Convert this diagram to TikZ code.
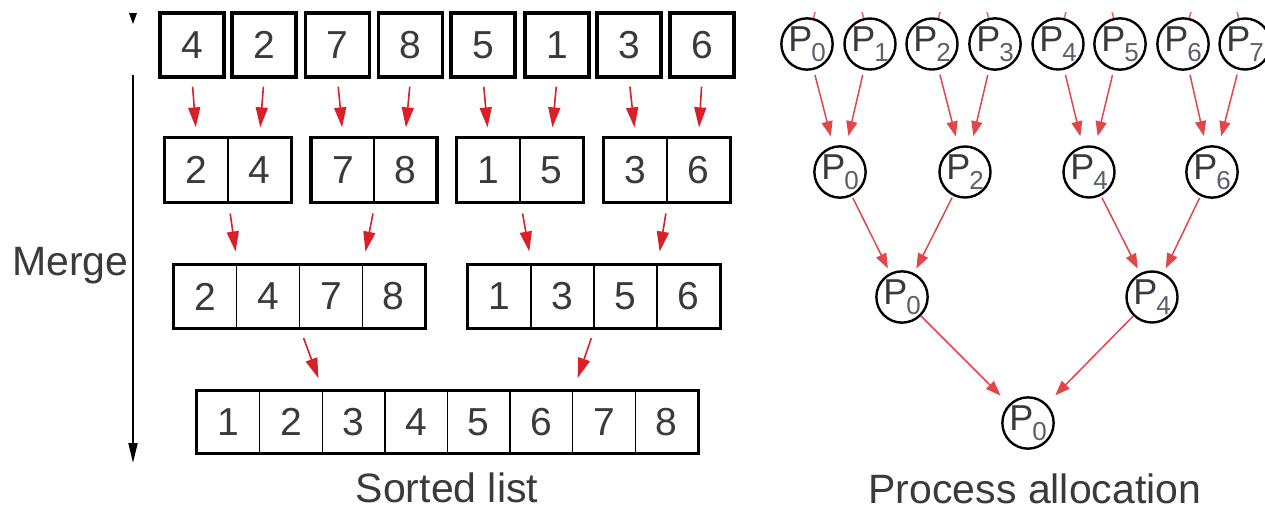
\documentclass[tikz,border=0pt]{standalone}
\usepackage{fontspec}
\setmainfont{Liberation Sans}
\usetikzlibrary{arrows.meta}
\definecolor{ink}{HTML}{3A3A3A}
\definecolor{subink}{HTML}{5A5F6A}
\definecolor{arrowred}{HTML}{DC1E26}
\definecolor{linkred}{HTML}{E2464A}
% process label: P with a lowered index
\newcommand\procname[1]{P\kern-1pt\raisebox{-10pt}{\fontsize{26}{26}\selectfont\color{subink}#1}}
\begin{document}
\begin{tikzpicture}[x=1pt,y=-1pt,
  num/.style={font=\fontsize{39}{39}\selectfont, text=ink, inner sep=0pt},
  single/.style={num, draw=black, line width=3.5pt, minimum width=64pt, minimum height=64pt},
  cell/.style={num, draw=black, line width=1.3pt},
  frame/.style={draw=black, line width=3.5pt},
  mergearrow/.style={draw=arrowred, line width=1.6pt, -{Triangle[length=20pt,width=12pt]}},
  proc/.style={circle, draw=black, line width=2.4pt, minimum size=51pt, inner sep=0pt,
    font=\fontsize{36}{36}\selectfont, text=ink},
  treearrow/.style={draw=linkred, line width=1.5pt, -{Triangle[length=15pt,width=11pt]}},
  stub/.style={draw=linkred!80, line width=1.6pt},
  caption/.style={font=\fontsize{41}{41}\selectfont, text=ink, inner sep=0pt}
]
\useasboundingbox (0,0) rectangle (1265,512);
\begin{scope}
\clip (0,0) rectangle (1265,512);

% ---------- merge axis ----------
\fill[black] (129,13) -- (137,13) -- (133,24) -- cycle;
\coordinate (axtop) at (133,75);
\coordinate (axbot) at (133,463);
\draw[line width=2pt, -{Triangle[length=20pt,width=9pt]}] (axtop) -- (axbot);
\node[caption, anchor=base west] (merge) at (12,275) {Merge};

% ---------- row 1: single elements ----------
\node[single] (a1) at (192,45)   {4};
\node[single] (a2) at (264,45)   {2};
\node[single] (a3) at (337.5,45) {7};
\node[single] (a4) at (410.5,45) {8};
\node[single] (a5) at (483,45)   {5};
\node[single] (a6) at (557,45)   {1};
\node[single] (a7) at (629,45)   {3};
\node[single] (a8) at (702,45)   {6};

% ---------- row 2: sorted pairs ----------
\tikzset{r2/.style={cell, minimum width=63pt, minimum height=64pt}}
\node[r2] (b1) at (196.5,170) {2};
\node[r2] (b2) at (259.5,170) {4};
\node[r2] (b3) at (343,170)   {7};
\node[r2] (b4) at (405,170)   {8};
\node[r2] (b5) at (488.5,170) {1};
\node[r2] (b6) at (551.5,170) {5};
\node[r2] (b7) at (635.5,170) {3};
\node[r2] (b8) at (698.5,170) {6};
\draw[frame] (b1.north west) rectangle (b2.south east);
\draw[frame] (b3.north west) rectangle (b4.south east);
\draw[frame] (b5.north west) rectangle (b6.south east);
\draw[frame] (b7.north west) rectangle (b8.south east);

% ---------- row 3: sorted quadruples ----------
\tikzset{r3/.style={cell, minimum width=62.75pt, minimum height=63pt}}
\node[r3] (c1) at (205.4,296.5) {2};
\node[r3] (c2) at (268.1,296.5) {4};
\node[r3] (c3) at (330.9,296.5) {7};
\node[r3] (c4) at (393.6,296.5) {8};
\node[r3] (c5) at (499.5,296.5) {1};
\node[r3] (c6) at (562.5,296.5) {3};
\node[r3] (c7) at (625.5,296.5) {5};
\node[r3] (c8) at (688.5,296.5) {6};
\draw[frame] (c1.north west) rectangle (c4.south east);
\draw[frame] (c5.north west) rectangle (c8.south east);

% ---------- row 4: sorted list ----------
\foreach \v [count=\i] in {1,2,3,4,5,6,7,8}
  \node[cell, minimum width=62.625pt, minimum height=62pt] (d\i) at ({197+62.625*(\i-0.5)},422) {\v};
\draw[frame] (d1.north west) rectangle (d8.south east);

\node[caption, anchor=base] (sorted) at (447,502) {Sorted list};

% ---------- merge arrows ----------
\foreach \i in {1,...,8}
  \draw[mergearrow, shorten <=8pt, shorten >=10pt] (a\i.south) -- (b\i.north);
\draw[mergearrow, shorten <=11pt, shorten >=13pt] (b1.south east) -- (c1.north east);
\draw[mergearrow, shorten <=11pt, shorten >=13pt] (b3.south east) -- (c3.north east);
\draw[mergearrow, shorten <=11pt, shorten >=13pt] (b5.south east) -- (c5.north east);
\draw[mergearrow, shorten <=11pt, shorten >=13pt] (b7.south east) -- (c7.north east);
\draw[mergearrow, shorten <=10pt, shorten >=13pt] (c2.south east) -- (d2.north east);
\draw[mergearrow, shorten <=10pt, shorten >=13pt] (c6.south east) -- (d6.north east);

% ---------- process tree ----------
\node[proc] (t0) at (807,44)  {\procname{0}};
\node[proc] (t1) at (870,44)  {\procname{1}};
\node[proc] (t2) at (932,44)  {\procname{2}};
\node[proc] (t3) at (995,44)  {\procname{3}};
\node[proc] (t4) at (1058,44) {\procname{4}};
\node[proc] (t5) at (1120,44) {\procname{5}};
\node[proc] (t6) at (1183,44) {\procname{6}};
\node[proc] (t7) at (1245,44) {\procname{7}};

\node[proc] (r0) at (840,172)  {\procname{0}};
\node[proc] (r2) at (965,172)  {\procname{2}};
\node[proc] (r4) at (1089,172) {\procname{4}};
\node[proc] (r6) at (1212,172) {\procname{6}};

\node[proc] (s0) at (902,297)  {\procname{0}};
\node[proc] (s4) at (1152,297) {\procname{4}};

\node[proc] (f0) at (1028,423) {\procname{0}};

\node[caption, anchor=base] (alloc) at (1035,503) {Process allocation};

% links entering the top row from above
\coordinate (u0) at (838.5,-82);
\coordinate (u2) at (963.5,-82);
\coordinate (u4) at (1089,-82);
\coordinate (u6) at (1214,-82);
\begin{scope}
\clip (700,12) rectangle (1265,40);
\foreach \p/\c in {u0/t0,u0/t1,u2/t2,u2/t3,u4/t4,u4/t5,u6/t6,u6/t7}
  \draw[stub] (\p) -- (\c);
\end{scope}

\foreach \c/\p in {t0/r0,t1/r0,t2/r2,t3/r2,t4/r4,t5/r4,t6/r6,t7/r6}
  \draw[treearrow, shorten <=5pt, shorten >=10pt] (\c) -- (\p);
\foreach \c/\p in {r0/s0,r2/s0,r4/s4,r6/s4}
  \draw[treearrow, shorten <=2pt, shorten >=5pt] (\c) -- (\p);
\foreach \c/\p in {s0/f0,s4/f0}
  \draw[treearrow, shorten >=12pt] (\c) -- (\p);
\end{scope}
\end{tikzpicture}
\end{document}
